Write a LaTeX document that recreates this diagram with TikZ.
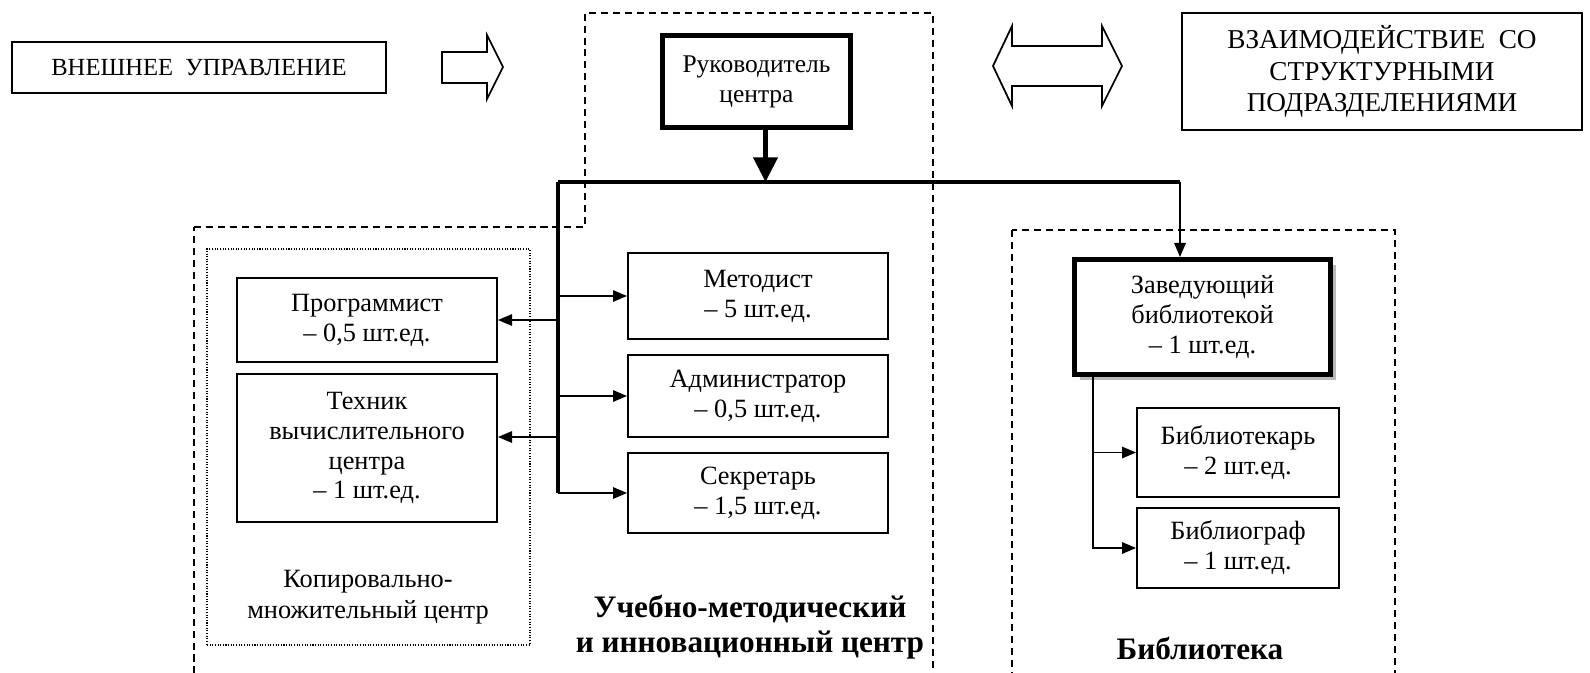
\documentclass[tikz,border=0pt]{standalone}
\usepackage{fontspec}
\setmainfont{Liberation Serif}
\usetikzlibrary{arrows.meta,shadows}

\begin{document}
\begin{tikzpicture}[x=0.02cm,y=-0.02cm,
	box/.style={draw=black,fill=white,line width=1.1pt,align=center,inner sep=0pt,font=\fontsize{15}{17}\selectfont},
	boldbox/.style={box,line width=2.8pt},
	zone/.style={draw=black,line width=0.9pt,dash pattern=on 4pt off 2.8pt},
	lbl/.style={align=center,font=\fontsize{17.8}{20}\selectfont\bfseries},
	link/.style={line width=1pt,-{Triangle[length=8pt,width=6.5pt]}},
	bus/.style={line width=2.8pt}]
	\useasboundingbox (0,0) rectangle (1590,673);
	\clip (0,0) rectangle (1590,673);
	\draw[zone] (194,227) -- (585,227) -- (585,13) -- (933,13) -- (933,680) -- (194,680) -- cycle;
	\draw[zone] (1012,230) rectangle (1395,680);
	\node (kmc) at (368.5,447) [draw=black,line width=0.8pt,dash pattern=on 0.6pt off 0.9pt,minimum width=6.46cm,minimum height=7.92cm] {};
	\draw[line width=1pt] (442,52) -- (487,52) -- (487,35) -- (503,67) -- (487,99) -- (487,83) -- (442,83) -- cycle;
	\draw[line width=1pt] (993,66) -- (1012,26) -- (1012,46) -- (1102,46) -- (1102,26) -- (1122,66) -- (1102,106) -- (1102,86) -- (1012,86) -- (1012,106) -- cycle;

	\node (vnesh) at (199,67.5) [box,font=\fontsize{14}{16}\selectfont,minimum width=7.48cm,minimum height=1.02cm] {ВНЕШНЕЕ\ \ УПРАВЛЕНИЕ};
	\node (ruk) at (756.5,81.5) [boldbox,font=\fontsize{14.5}{17}\selectfont,minimum width=3.76cm,minimum height=1.84cm] {Руководитель\\центра};
	\node (vzaim) at (1382,71.5) [box,font=\fontsize{15.5}{18}\selectfont,minimum width=8cm,minimum height=2.34cm] {ВЗАИМОДЕЙСТВИЕ\ \ СО\\СТРУКТУРНЫМИ\\ПОДРАЗДЕЛЕНИЯМИ};
	\node (prog) at (367,320) [box,minimum width=5.2cm,minimum height=1.68cm] {Программист\\-- 0,5 шт.ед.};
	\node (tech) at (367,448) [box,minimum width=5.2cm,minimum height=2.96cm] {Техник\\вычислительного\\центра\\-- 1 шт.ед.};
	\node (metod) at (758,296) [box,minimum width=5.2cm,minimum height=1.72cm] {Методист\\-- 5 шт.ед.};
	\node (admin) at (758,396) [box,minimum width=5.2cm,minimum height=1.64cm] {Администратор\\-- 0,5 шт.ед.};
	\node (secr) at (758,493) [box,minimum width=5.2cm,minimum height=1.6cm] {Секретарь\\-- 1,5 шт.ед.};
	\node (zav) at (1202.5,317) [boldbox,minimum width=5.12cm,minimum height=2.3cm,drop shadow={shadow xshift=3pt,shadow yshift=-3pt,fill=gray!55,opacity=1}] {Заведующий\\библиотекой\\-- 1 шт.ед.};
	\node (bibl) at (1238,452.5) [box,minimum width=4.04cm,minimum height=1.78cm] {Библиотекарь\\-- 2 шт.ед.};
	\node (biblgr) at (1238,548) [box,minimum width=4.04cm,minimum height=1.6cm] {Библиограф\\-- 1 шт.ед.};

	\node (kmclbl) at (368,597) [align=center,font=\fontsize{15}{17.5}\selectfont] {Копировально-\\множительный центр};
	\node (uchlbl) at (750,627) [lbl] {Учебно-методический\\и инновационный центр};
	\node (biblbl) at (1200,648) [lbl] {Библиотека};

	\coordinate (busL) at (558,182);
	\coordinate (busR) at (1180,182);
	\draw[bus] (busL) -- (busR);
	\draw[bus] (busL) -- (secr.west -| busL);
	\draw[line width=2.8pt,-{Triangle[length=14pt,width=13.5pt]}] ([xshift=0.18cm]ruk.south) -- ([xshift=0.18cm]ruk.south |- busL);
	\foreach \n in {metod,admin,secr}
		\draw[link] (\n.west -| busL) -- (\n.west);
	\draw[link] (prog.east -| busL) -- (prog.east);
	\draw[link] ([yshift=0.22cm]tech.east -| busL) -- ([yshift=0.22cm]tech.east);
	\draw[link] (busR) -- (busR |- zav.north);
	\coordinate (zavL) at ([xshift=0.42cm]zav.south west);
	\draw[link] (zavL) |- (biblgr.west);
	\draw[link] (zavL |- bibl.west) -- (bibl.west);
\end{tikzpicture}
\end{document}
